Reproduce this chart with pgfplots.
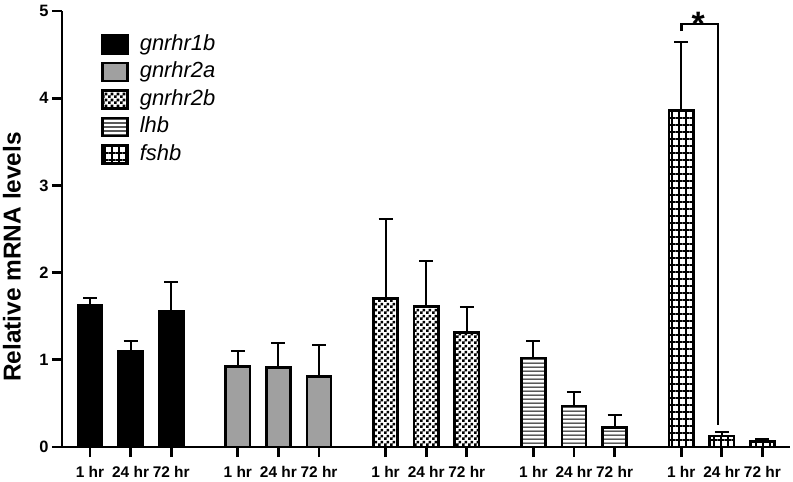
\documentclass[border=0pt]{standalone}
\usepackage{pgfplots}
\pgfplotsset{compat=1.18}
\usepackage{fontspec}
\setmainfont{Liberation Sans}
\usetikzlibrary{patterns,patterns.meta}

\pgfdeclarepatternformonly{mychecker}{\pgfpointorigin}{\pgfqpoint{6bp}{6bp}}{\pgfqpoint{6bp}{6bp}}{%
  \pgfpathrectangle{\pgfpointorigin}{\pgfqpoint{3bp}{3bp}}%
  \pgfpathrectangle{\pgfqpoint{3bp}{3bp}}{\pgfqpoint{3bp}{3bp}}%
  \pgfusepath{fill}}

\definecolor{bargray}{RGB}{160,160,160}

\pgfplotsset{
  mybar/.style={
    ybar, bar width=0.6, bar shift=0pt, draw=black, line width=2.6bp,
    legend image code/.code={\draw[##1, line width=2.6bp] (0bp,-9bp) rectangle (25bp,9bp);},
    error bars/y dir=plus, error bars/y explicit,
    error bars/error bar style={line width=2bp, black, solid},
    error bars/error mark options={rotate=90, line width=2bp, black, mark size=7bp, solid},
  },
}

\begin{document}
\begin{tikzpicture}
\path[use as bounding box] (-62bp,-35bp) rectangle (731bp,447bp);
\begin{axis}[
  at={(0,0)}, anchor=south west, scale only axis,
  width=728bp, height=436bp,
  xmin=-0.69, xmax=17.24, ymin=0, ymax=5,
  axis x line*=bottom, axis y line*=left,
  axis line style={-, line width=2.7bp, black},
  tick align=outside, major tick length=10bp,
  tick style={line width=2.7bp, black},
  xtick={0,1,2,3.64,4.64,5.64,7.28,8.28,9.28,10.92,11.92,12.92,14.56,15.56,16.56},
  xticklabels={1 hr,24 hr,72 hr,1 hr,24 hr,72 hr,1 hr,24 hr,72 hr,1 hr,24 hr,72 hr,1 hr,24 hr,72 hr},
  ytick={0,1,2,3,4,5}, yticklabels={0,1,2,3,4,5},
  xticklabel style={font=\fontsize{15.5}{17}\selectfont\bfseries, yshift=-6bp},
  yticklabel style={font=\fontsize{16.5}{18}\selectfont\bfseries},
  ylabel={Relative mRNA levels},
  ylabel style={font=\fontsize{24.5}{27}\selectfont\bfseries, at={(axis description cs:-0.0687,0.436)}, anchor=center},
  clip=false,
  legend cell align=left,
  legend style={at={(0.0536,0.95)}, anchor=north west, draw=none, fill=none, inner sep=0pt,
    font=\fontsize{22}{24}\selectfont\itshape, row sep=4.5bp,
    nodes={inner sep=1bp, text height=16bp, text depth=5bp},
    /tikz/every odd column/.append style={column sep=10bp}},
]
\addplot[mybar, fill=black] coordinates {
  (0,1.63) +- (0,0.08)
  (1,1.10) +- (0,0.11)
  (2,1.56) +- (0,0.33)
};
\addplot[mybar, fill=bargray] coordinates {
  (3.64,0.92) +- (0,0.18)
  (4.64,0.91) +- (0,0.28)
  (5.64,0.81) +- (0,0.36)
};
\addplot[mybar, pattern=mychecker] coordinates {
  (7.28,1.70) +- (0,0.91)
  (8.28,1.61) +- (0,0.52)
  (9.28,1.31) +- (0,0.30)
};
\addplot[mybar, pattern={Lines[angle=0, distance=3.9bp, line width=1.2bp]}] coordinates {
  (10.92,1.02) +- (0,0.19)
  (11.92,0.47) +- (0,0.16)
  (12.92,0.225) +- (0,0.14)
};
\addplot[mybar, pattern={Hatch[angle=0, distance=7bp, line width=1.8bp]}] coordinates {
  (14.56,3.86) +- (0,0.79)
  (15.56,0.125) +- (0,0.045)
  (16.56,0.06) +- (0,0.03)
};
\legend{gnrhr1b,gnrhr2a,gnrhr2b,lhb,fshb}
\draw[line width=2.7bp, line cap=butt, line join=miter] (axis cs:14.56,4.77) -- (axis cs:14.56,4.85) -- (axis cs:15.47,4.85) -- (axis cs:15.47,0.25);
\node[font=\fontsize{34}{36}\selectfont\bfseries, inner sep=0pt] at (axis cs:14.98,4.85) {*};
\end{axis}
\end{tikzpicture}
\end{document}
